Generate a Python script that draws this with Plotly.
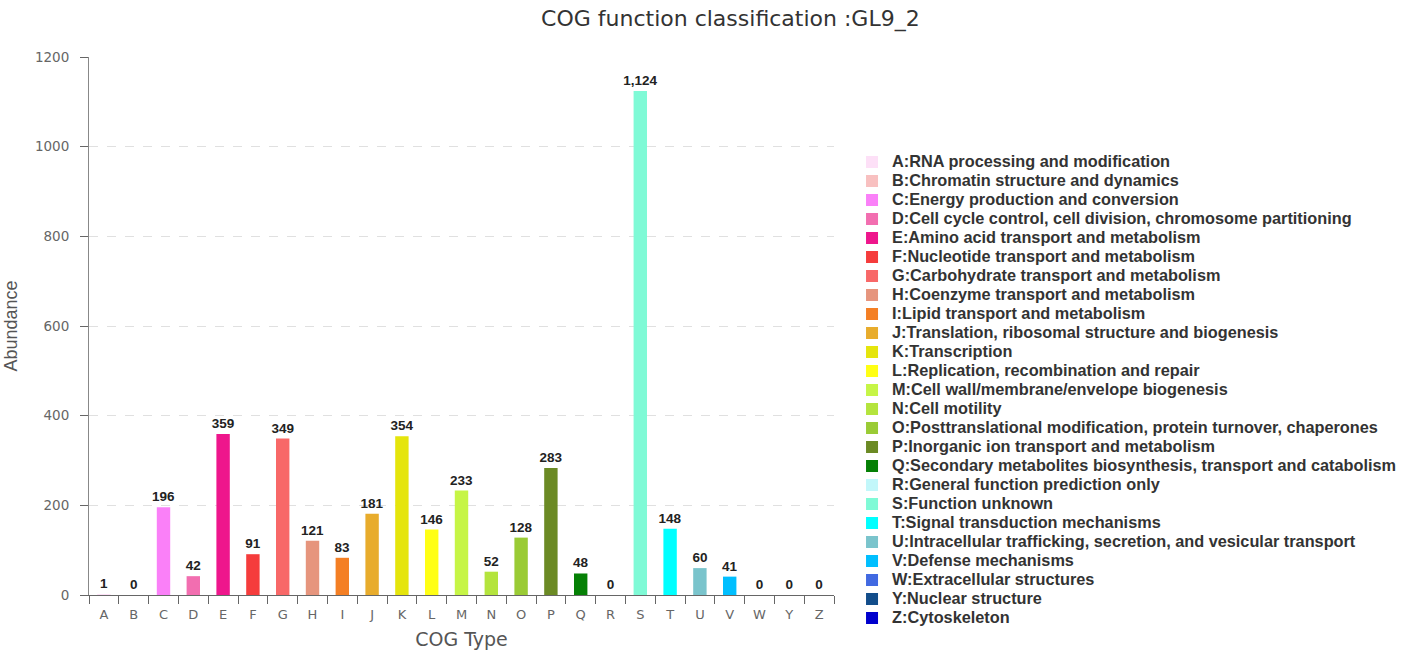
import plotly.graph_objects as go

categories = ["A","B","C","D","E","F","G","H","I","J","K","L","M","N","O","P","Q","R","S","T","U","V","W","Y","Z"]
descriptions = [
    "RNA processing and modification",
    "Chromatin structure and dynamics",
    "Energy production and conversion",
    "Cell cycle control, cell division, chromosome partitioning",
    "Amino acid transport and metabolism",
    "Nucleotide transport and metabolism",
    "Carbohydrate transport and metabolism",
    "Coenzyme transport and metabolism",
    "Lipid transport and metabolism",
    "Translation, ribosomal structure and biogenesis",
    "Transcription",
    "Replication, recombination and repair",
    "Cell wall/membrane/envelope biogenesis",
    "Cell motility",
    "Posttranslational modification, protein turnover, chaperones",
    "Inorganic ion transport and metabolism",
    "Secondary metabolites biosynthesis, transport and catabolism",
    "General function prediction only",
    "Function unknown",
    "Signal transduction mechanisms",
    "Intracellular trafficking, secretion, and vesicular transport",
    "Defense mechanisms",
    "Extracellular structures",
    "Nuclear structure",
    "Cytoskeleton",
]
values = [1,0,196,42,359,91,349,121,83,181,354,146,233,52,128,283,48,0,1124,148,60,41,0,0,0]
colors = ["#FDE0F7","#F8C0C0","#FA80F8","#F26EB0","#EE168C","#F53C3C","#F86868","#E6957D",
          "#F47F24","#E8AC2C","#E5E50C","#FFFF14","#C6F546","#B4E43D","#9ACB35","#6B8A24",
          "#058005","#C2F7FA","#7FFAD6","#00FFFF","#7AC4CC","#00BFFF","#4169E1","#124D8A","#0000CD"]

SANS = "Liberation Sans, Arial, sans-serif"
WIDE = "DejaVu Sans, sans-serif"

fig = go.Figure()
for c, d, v, col in zip(categories, descriptions, values, colors):
    fig.add_trace(go.Bar(
        x=[c], y=[v],
        name=f'<span style="font-size:16.3px">{c}:{d}</span>',
        marker=dict(color=col, line=dict(width=0)),
        width=0.45, text=[v], texttemplate="%{y:,}", textposition="outside",
        constraintext="none",
        textfont=dict(family=SANS, size=13.5, color="#222", weight="bold"),
        cliponaxis=False,
    ))

fig.update_layout(
    width=1410, height=656,
    paper_bgcolor="white", plot_bgcolor="white",
    barmode="overlay",
    margin=dict(l=89, r=576, t=57, b=61, autoexpand=False),
    title=dict(text="COG function classification :GL9_2", x=0.518, xanchor="center",
               y=0.972, yanchor="middle",
               font=dict(family=WIDE, size=22, color="#333")),
    font=dict(family=SANS, color="#666"),
    showlegend=True,
    legend=dict(x=1.0242, xanchor="left", y=0.832, yanchor="top",
                font=dict(family=SANS, size=12.3, color="#333", weight="bold"),
                itemclick=False, tracegroupgap=0),
)
fig.update_xaxes(
    categoryorder="array", categoryarray=categories,
    tickson="boundaries", ticks="outside", ticklen=8, tickcolor="#666",
    showline=True, linecolor="#666", linewidth=1,
    tickfont=dict(family=WIDE, size=13, color="#666"), ticklabelstandoff=7,
    title=dict(text="COG Type", font=dict(family=WIDE, size=19, color="#555"), standoff=12),
    showgrid=False, range=[-0.5, 24.5], automargin=False,
)
fig.update_yaxes(
    range=[0, 1200], dtick=200, ticks="outside", ticklen=8, tickcolor="#666",
    showline=True, linecolor="#888", linewidth=1,
    tickfont=dict(family=WIDE, size=13.5, color="#666"), ticklabelstandoff=8,
    title=dict(text="Abundance", font=dict(family=SANS, size=18, color="#555"), standoff=12),
    showgrid=True, gridcolor="#e0e0e0", griddash="dash", zeroline=False, automargin=False,
)

fig.write_html("out.html", config={"displayModeBar": False},
               post_script="document.body.style.margin='0';document.body.style.overflow='hidden';")
